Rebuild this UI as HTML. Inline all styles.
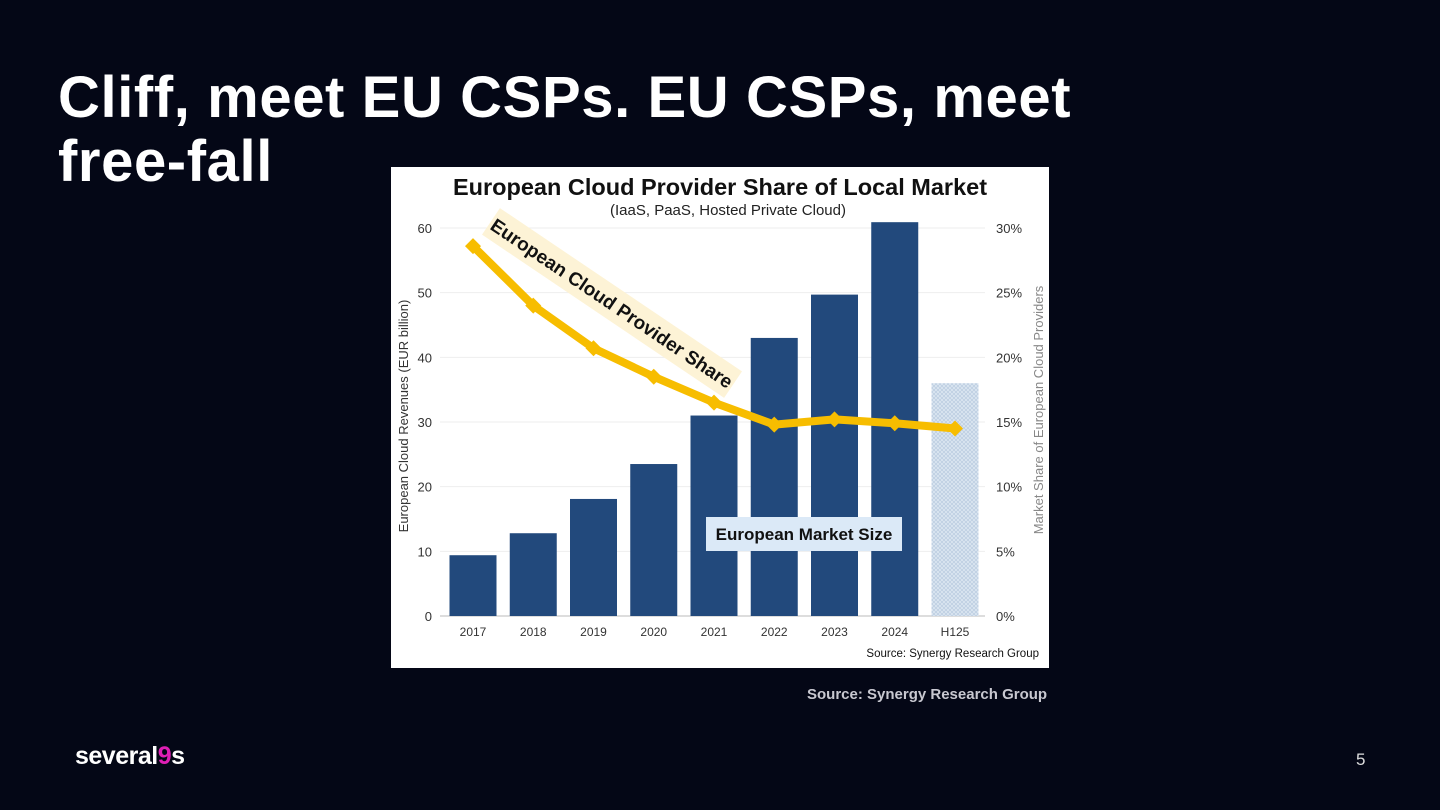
<!DOCTYPE html>
<html><head><meta charset="utf-8"><style>
html,body{margin:0;padding:0;width:1440px;height:810px;overflow:hidden;background:#040716;font-family:"Liberation Sans",sans-serif}
.title{position:absolute;left:58px;top:66px;color:#fff;font-weight:bold;font-size:58px;line-height:64px;letter-spacing:0.6px}
.src{position:absolute;left:807px;top:686px;color:#c8c8d0;font-weight:bold;font-size:15px}
.logo{position:absolute;left:75px;top:742px;color:#fff;font-weight:bold;font-size:25px;letter-spacing:-0.5px}
.logo span{color:#e01fb5}
.pnum{position:absolute;left:1356px;top:750px;color:#ddd;font-size:17px}
</style></head><body>
<div class="title">Cliff, meet EU CSPs. EU CSPs, meet<br>free-fall</div>
<svg id="chart" width="1440" height="810" style="position:absolute;left:0;top:0">
<defs><pattern id="hatch" width="4" height="4" patternUnits="userSpaceOnUse"><rect width="4" height="4" fill="#dbe6f1"/><path d="M0 0L4 4M4 0L0 4" stroke="#b9cbe0" stroke-width="0.7"/></pattern></defs>
<rect x="391" y="167" width="658" height="501" fill="#fff"/>
<text x="720" y="195" text-anchor="middle" font-size="23.5" font-weight="bold" fill="#111">European Cloud Provider Share of Local Market</text>
<text x="728" y="215" text-anchor="middle" font-size="15" fill="#222">(IaaS, PaaS, Hosted Private Cloud)</text>
<g id="grid"></g><g id="bars"></g><g id="line"></g><g id="axes"></g>
<text transform="translate(408,416) rotate(-90)" text-anchor="middle" font-size="13" fill="#333">European Cloud Revenues (EUR billion)</text>
<text transform="translate(1043,410) rotate(-90)" text-anchor="middle" font-size="13" fill="#888">Market Share of European Cloud Providers</text>
<g transform="translate(612,303) rotate(34)"><rect x="-146" y="-16" width="292" height="32" fill="#fdf3d6"/><text x="0" y="7" text-anchor="middle" font-size="19" font-weight="bold" fill="#111">European Cloud Provider Share</text></g>
<rect x="706" y="517" width="196" height="34" fill="#dbe9f7"/>
<text x="804" y="540" text-anchor="middle" font-size="17" font-weight="bold" fill="#111">European Market Size</text>
<text x="1039" y="657" text-anchor="end" font-size="11.5" fill="#111">Source: Synergy Research Group</text>
</svg>
<div class="src">Source: Synergy Research Group</div>
<div class="logo">several<span>9</span>s</div>
<div class="pnum">5</div>
<script>
const categories=["2017","2018","2019","2020","2021","2022","2023","2024","H125"];
const revenues=[9.4,12.8,18.1,23.5,31.0,43.0,49.7,60.9,36.0];
const shares=[28.6,24.0,20.7,18.5,16.5,14.8,15.2,14.9,14.5];
const leftTicks=[0,10,20,30,40,50,60];
const rightTicks=[0,5,10,15,20,25,30];
const NS="http://www.w3.org/2000/svg";
const y0=616,y60=228;
const yL=v=>y0-(v/60)*(y0-y60);
const yR=v=>y0-(v/30)*(y0-y60);
const xC=i=>473+i*60.25;
function mk(t,a,p){const e=document.createElementNS(NS,t);for(const k in a)e.setAttribute(k,a[k]);document.getElementById(p).appendChild(e);return e;}
leftTicks.forEach((t,i)=>{
 const g=mk("line",{x1:440,x2:985,y1:yL(t),y2:yL(t),stroke:t==0?"#bbb":"#eee","stroke-width":1},"grid");
 
 
 const l=mk("text",{x:432,y:yL(t)+5,"text-anchor":"end","font-size":13,fill:"#333"},"axes");l.textContent=t;
 
 
});
rightTicks.forEach(t=>{
 const l=mk("text",{x:996,y:yR(t)+5,"font-size":13,fill:"#333"},"axes");l.textContent=t+"%";
 
 
});
categories.forEach((c,i)=>{
 const last=i==categories.length-1;
 const b=mk("rect",{x:xC(i)-23.5,y:yL(revenues[i]),width:47,height:y0-yL(revenues[i]),fill:last?"url(#hatch)":"#22497c"},"bars");
 
 
 const l=mk("text",{x:xC(i),y:636,"text-anchor":"middle","font-size":12,fill:"#333"},"axes");l.textContent=c;
 
 
});
const pl=mk("polyline",{points:shares.map((s,i)=>xC(i)+","+yR(s)).join(" "),fill:"none",stroke:"#f7bd00","stroke-width":8,"stroke-linejoin":"round"},"line");


shares.forEach((s,i)=>{
 const m=mk("path",{d:`M${xC(i)-8} ${yR(s)}L${xC(i)} ${yR(s)-8}L${xC(i)+8} ${yR(s)}L${xC(i)} ${yR(s)+8}Z`,fill:"#f7bd00"},"line");
 
 
});
</script>
</body></html>
